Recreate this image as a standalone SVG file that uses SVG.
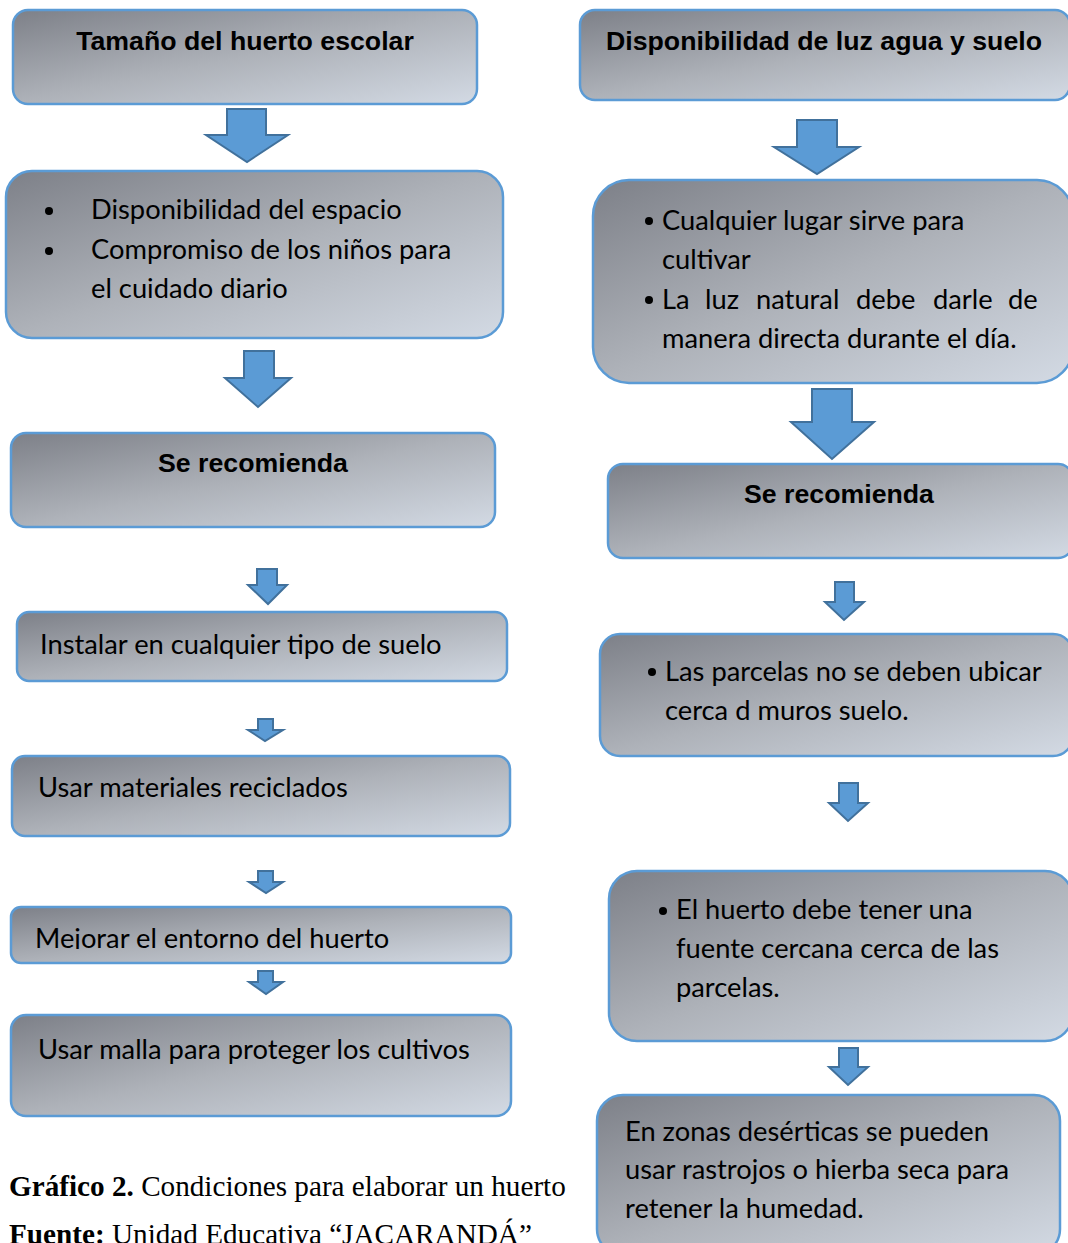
<svg xmlns="http://www.w3.org/2000/svg" width="1068" height="1243" viewBox="0 0 1068 1243">
<defs>
<linearGradient id="g" x1="0" y1="0" x2="1" y2="1">
<stop offset="0" stop-color="#7d8088"/>
<stop offset="0.5" stop-color="#aeb2b9"/>
<stop offset="1" stop-color="#d3dae4"/>
</linearGradient>
<clipPath id="clipM"><rect x="0" y="900" width="520" height="49"/></clipPath>
</defs>
<style>
.box{fill:url(#g);stroke:#5b9bd5;stroke-width:2.5}
.arr{fill:#5b9bd5;stroke:#41719c;stroke-width:2;stroke-linejoin:miter}
.t{font-family:Lato,"Open Sans","Noto Sans",sans-serif;font-size:27.3px;fill:#000}
.h{font-family:"Liberation Sans",Arial,sans-serif;font-size:26.7px;font-weight:bold;fill:#000;text-anchor:middle}
.c{font-family:"Liberation Serif","Times New Roman",serif;font-size:29.2px;fill:#000}
</style>
<rect width="1068" height="1243" fill="#fff"/>
<g id="connectors">
<polygon class="arr" points="227,109 266,109 266,135 288,135 247,162 206,135 227,135"/>
<polygon class="arr" points="244,351 274,351 274,378 291,378 258,407 225,378 244,378"/>
<polygon class="arr" points="257,569 277,569 277,585 287,585 268,604 248,585 257,585"/>
<polygon class="arr" points="258,719 273,719 273,730 283,730 265,741 248,730 258,730"/>
<polygon class="arr" points="258,871 273,871 273,882 283,882 266,893 249,882 258,882"/>
<polygon class="arr" points="258,971 273,971 273,982 283,982 266,994 249,982 258,982"/>
<polygon class="arr" points="797,120 837,120 837,147 859,147 817,174 774,147 797,147"/>
<polygon class="arr" points="812,389 852,389 852,422 874,422 832,459 791,422 812,422"/>
<polygon class="arr" points="835,582 854,582 854,602 864,602 844,620 825,602 835,602"/>
<polygon class="arr" points="839,783 858,783 858,803 868,803 848,821 829,803 839,803"/>
<polygon class="arr" points="839,1048 858,1048 858,1067 868,1067 848,1085 829,1067 839,1067"/>
</g>
<g id="n1">
<rect class="box" x="13" y="10" width="464" height="94" rx="15"/>
<text class="h" x="245" y="50">Tamaño del huerto escolar</text>
</g>
<g id="n2">
<rect class="box" x="6" y="171" width="497" height="167" rx="26"/>
<circle cx="49" cy="211" r="4"/>
<circle cx="49" cy="251" r="4"/>
<text class="t" x="91" y="219">Disponibilidad del espacio</text>
<text class="t" x="91" y="259">Compromiso de los niños para</text>
<text class="t" x="91" y="298">el cuidado diario</text>
</g>
<g id="n3">
<rect class="box" x="11" y="433" width="484" height="94" rx="15"/>
<text class="h" x="253" y="472">Se recomienda</text>
</g>
<g id="n4">
<rect class="box" x="17" y="612" width="490" height="69" rx="12"/>
<text class="t" x="40" y="654">Instalar en cualquier tipo de suelo</text>
</g>
<g id="n5">
<rect class="box" x="12" y="756" width="498" height="80" rx="13"/>
<text class="t" x="38" y="797">Usar materiales reciclados</text>
</g>
<g id="n6">
<rect class="box" x="11" y="907" width="500" height="56" rx="10"/>
<text class="t" x="35" y="948" clip-path="url(#clipM)">Mejorar el entorno del huerto</text>
</g>
<g id="n7">
<rect class="box" x="11" y="1015" width="500" height="101" rx="15"/>
<text class="t" x="38" y="1059">Usar malla para proteger los cultivos</text>
</g>
<g id="caption">
<text class="c" x="9" y="1196"><tspan font-weight="bold">Gráfico 2.</tspan> Condiciones para elaborar un huerto</text>
<text class="c" x="9" y="1244"><tspan font-weight="bold">Fuente:</tspan> Unidad Educativa “JACARANDÁ”</text>
</g>
<g id="r1">
<rect class="box" x="580" y="10" width="490" height="90" rx="15"/>
<text class="h" x="824" y="50">Disponibilidad de luz agua y suelo</text>
</g>
<g id="r2">
<rect class="box" x="593" y="180" width="480" height="203" rx="36"/>
<circle cx="649" cy="221" r="4"/>
<circle cx="649" cy="300" r="4"/>
<text class="t" x="662" y="230">Cualquier lugar sirve para</text>
<text class="t" x="662" y="269">cultivar</text>
<text class="t" y="309"><tspan x="662">La</tspan><tspan x="705">luz</tspan><tspan x="756">natural</tspan><tspan x="856">debe</tspan><tspan x="933">darle</tspan><tspan x="1008">de</tspan></text>
<text class="t" x="662" y="348">manera directa durante el día.</text>
</g>
<g id="r3">
<rect class="box" x="608" y="464" width="465" height="94" rx="15"/>
<text class="h" x="839" y="503">Se recomienda</text>
</g>
<g id="r4">
<rect class="box" x="600" y="634" width="473" height="122" rx="20"/>
<circle cx="652" cy="672" r="4"/>
<text class="t" x="665" y="681">Las parcelas no se deben ubicar</text>
<text class="t" x="665" y="720">cerca d muros suelo.</text>
</g>
<g id="r5">
<rect class="box" x="609" y="871" width="464" height="170" rx="28"/>
<circle cx="663" cy="911" r="4"/>
<text class="t" x="676" y="919">El huerto debe tener una</text>
<text class="t" x="676" y="958">fuente cercana cerca de las</text>
<text class="t" x="676" y="997">parcelas.</text>
</g>
<g id="r6">
<rect class="box" x="597" y="1095" width="463" height="160" rx="26"/>
<text class="t" x="625" y="1141">En zonas desérticas se pueden</text>
<text class="t" x="625" y="1179">usar rastrojos o hierba seca para</text>
<text class="t" x="625" y="1218">retener la humedad.</text>
</g>
</svg>
